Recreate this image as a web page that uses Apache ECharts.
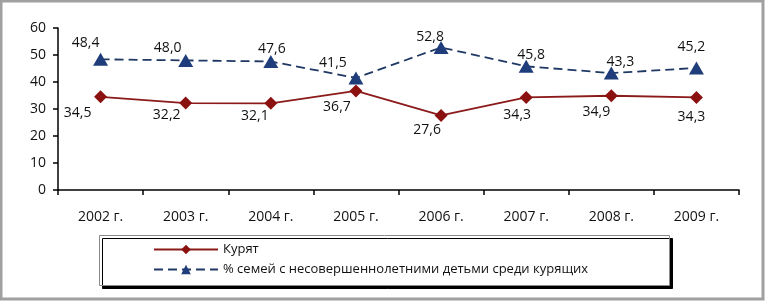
<!DOCTYPE html>
<html>
<head>
<meta charset="utf-8">
<script src="https://cdn.jsdelivr.net/npm/echarts@6/dist/echarts.min.js"></script>
<style>
html,body{margin:0;padding:0;background:#fff;}
#chart{width:765px;height:301px;}
</style>
</head>
<body>
<div id="chart"></div>
<script>
const years=['2002 г.','2003 г.','2004 г.','2005 г.','2006 г.','2007 г.','2008 г.','2009 г.'];
const smokers=[34.5,32.2,32.1,36.7,27.6,34.3,34.9,34.3];
const families=[48.4,48.0,47.6,41.5,52.8,45.8,43.3,45.2];
const names=['Курят','% семей с несовершеннолетними детьми среди курящих'];

// label centre relative to its point (px)
const redShift=[[-23,16],[-19,12],[-16,13],[-19,16],[-14,15],[-9,18],[-15,16],[-5,20]];
const blueShift=[[-15,-16],[-18,-12],[1,-12],[-23,-15],[-11,-10],[5,-11],[9,-11],[-5,-21]];

const fmt=v=>v.toFixed(1).replace('.',',');
const font='"Open Sans", sans-serif';

const chart=echarts.init(document.getElementById('chart'));
chart.setOption({
    animation:false,
    textStyle:{fontFamily:font},
    grid:{left:58,right:26,top:28,bottom:111},
    graphic:[
        {type:'rect',shape:{x:1,y:1,width:762,height:298},style:{fill:'none',stroke:'#a0a0a0',lineWidth:3},z:-1},
        {type:'rect',shape:{x:99.5,y:235.5,width:570,height:50},
         style:{fill:'#fff',stroke:'#8a8a8a',lineWidth:1,shadowColor:'#000',shadowOffsetX:3,shadowOffsetY:3,shadowBlur:0},z:-1}
    ],
    xAxis:{
        type:'category',data:years,boundaryGap:true,
        axisLine:{lineStyle:{color:'#000',width:1.5}},
        axisTick:{show:true,length:5,lineStyle:{color:'#000',width:1.5}},
        axisLabel:{color:'#111',fontSize:14,margin:20,fontFamily:font}
    },
    yAxis:{
        type:'value',min:0,max:60,interval:10,
        axisLine:{show:true,lineStyle:{color:'#000',width:1.5}},
        axisTick:{show:true,length:5,lineStyle:{color:'#000',width:1.5}},
        splitLine:{show:false},
        axisLabel:{color:'#111',fontSize:14,margin:12,fontFamily:font}
    },
    legend:{
        orient:'vertical',left:148,top:238,itemWidth:64,itemHeight:12,itemGap:7,
        textStyle:{color:'#111',fontSize:13,fontFamily:font},
        data:names
    },
    series:[
        {
            name:names[0],type:'line',data:smokers.map((v,i)=>({value:v,label:{offset:redShift[i]}})),
            symbol:'diamond',symbolSize:13,
            lineStyle:{color:'#8b1a1a',width:1.8},
            itemStyle:{color:'#8b1111'},
            label:{show:true,position:'inside',color:'#111',fontSize:14,formatter:p=>fmt(p.value)}
        },
        {
            name:names[1],type:'line',data:families.map((v,i)=>({value:v,label:{offset:blueShift[i]}})),
            symbol:'triangle',symbolSize:[15,13],
            lineStyle:{color:'#1f3864',width:1.8,type:[9,5]},
            itemStyle:{color:'#1f3d7a'},
            label:{show:true,position:'inside',color:'#111',fontSize:14,formatter:p=>fmt(p.value)}
        }
    ]
});
</script>
</body>
</html>
